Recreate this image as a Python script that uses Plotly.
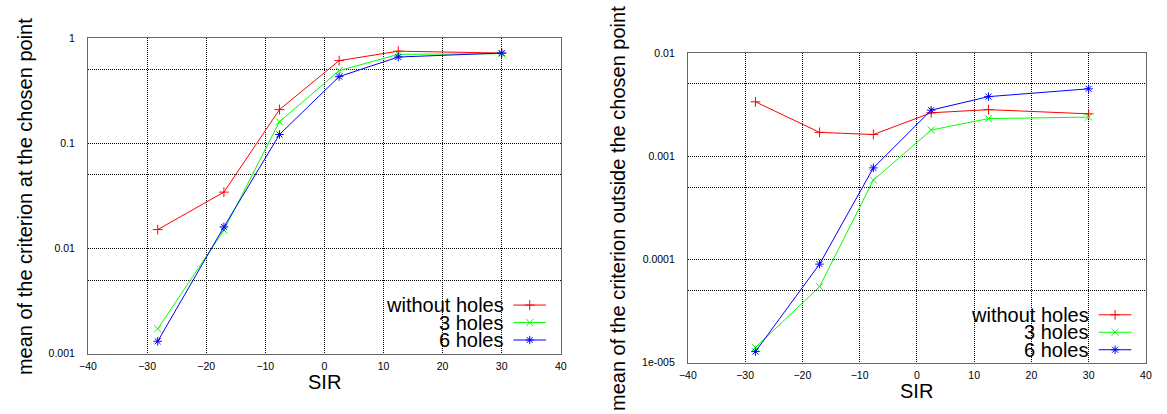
import plotly.graph_objects as go

# ---- data ----
sir = [-28.2, -17.0, -7.6, 2.5, 12.5, 30.0]

left_without = [0.0151, 0.0343, 0.209, 0.61, 0.75, 0.72]
left_3holes = [0.00172, 0.0149, 0.16, 0.49, 0.70, 0.71]
left_6holes = [0.00131, 0.0160, 0.121, 0.43, 0.66, 0.72]

right_without = [0.00336, 0.00170, 0.00162, 0.00263, 0.00282, 0.00257]
right_3holes = [1.40e-5, 5.44e-5, 0.000586, 0.00179, 0.00231, 0.00239]
right_6holes = [1.28e-5, 9.0e-5, 0.00077, 0.00279, 0.00377, 0.00449]

series_names = ["without holes", "3 holes", "6 holes"]
series_colors = ["#ff0000", "#00ff00", "#0000ff"]
series_symbols = ["cross-thin-open", "x-thin-open", "asterisk-open"]

x_ticks = [-40, -30, -20, -10, 0, 10, 20, 30, 40]
left_yvals = [0.001, 0.005, 0.01, 0.05, 0.1, 0.5, 1]
left_ytext = ["0.001", "", "0.01", "", "0.1", "", "1"]
right_yvals = [1e-5, 5e-5, 1e-4, 5e-4, 1e-3, 5e-3, 1e-2]
right_ytext = ["1e-005", "", "0.0001", "", "0.001", "", "0.01"]

W, H = 1167, 414
FONT = "Liberation Sans, Arial, sans-serif"
MSIZE = 7


def marker(i):
    return dict(symbol=series_symbols[i], size=MSIZE, color=series_colors[i],
                line=dict(color=series_colors[i], width=1))


fig = go.Figure()

left_data = [left_without, left_3holes, left_6holes]
right_data = [right_without, right_3holes, right_6holes]

for i in range(3):
    fig.add_trace(go.Scatter(
        x=sir, y=left_data[i], mode="lines+markers", name=series_names[i],
        line=dict(color=series_colors[i], width=1), marker=marker(i),
        xaxis="x", yaxis="y", showlegend=False))
for i in range(3):
    fig.add_trace(go.Scatter(
        x=sir, y=right_data[i], mode="lines+markers", name=series_names[i],
        line=dict(color=series_colors[i], width=1), marker=marker(i),
        xaxis="x2", yaxis="y2", showlegend=False))

# custom gnuplot-style legends (text left, sample right) on a full-page pixel axis
legend_specs = [
    dict(text_right=503, line_x0=511, line_x1=544, rows=[308, 326, 344]),
    dict(text_right=1096, line_x0=1104, line_x1=1137, rows=[318, 336, 354]),
]
annotations = []
for spec in legend_specs:
    for i in range(3):
        yrow = spec["rows"][i]
        fig.add_trace(go.Scatter(
            x=[spec["line_x0"], spec["line_x1"]], y=[yrow, yrow], mode="lines",
            line=dict(color=series_colors[i], width=1),
            xaxis="x3", yaxis="y3", showlegend=False, hoverinfo="skip"))
        fig.add_trace(go.Scatter(
            x=[(spec["line_x0"] + spec["line_x1"]) / 2], y=[yrow], mode="markers",
            marker=marker(i),
            xaxis="x3", yaxis="y3", showlegend=False, hoverinfo="skip"))
        annotations.append(dict(
            text=series_names[i], x=spec["text_right"] / W, y=1 - yrow / H,
            xref="paper", yref="paper", xanchor="right", yanchor="middle",
            showarrow=False, font=dict(family=FONT, size=20, color="black")))

# axis titles
annotations += [
    dict(text="SIR", x=319.5 / W, y=1 - 387 / H, xref="paper", yref="paper",
         xanchor="center", yanchor="middle", showarrow=False,
         font=dict(family=FONT, size=20, color="black")),
    dict(text="SIR", x=919.7 / W, y=1 - 397 / H, xref="paper", yref="paper",
         xanchor="center", yanchor="middle", showarrow=False,
         font=dict(family=FONT, size=20, color="black")),
    dict(text="mean of the criterion at the chosen point", x=17 / W, y=1 - 196 / H,
         xref="paper", yref="paper", xanchor="center", yanchor="middle",
         textangle=-90, showarrow=False,
         font=dict(family=FONT, size=20, color="black")),
    dict(text="mean of the criterion outside the chosen point", x=617 / W, y=1 - 209 / H,
         xref="paper", yref="paper", xanchor="center", yanchor="middle",
         textangle=-90, showarrow=False,
         font=dict(family=FONT, size=20, color="black")),
]

grid = dict(showgrid=True, gridcolor="black", gridwidth=1, griddash="1px,1px",
            showline=True, linecolor="#666666", linewidth=1, mirror=True,
            zeroline=False, ticks="", tickfont=dict(family=FONT, size=10.5, color="black"))

fig.update_layout(
    width=W, height=H,
    margin=dict(l=0, r=0, t=0, b=0),
    paper_bgcolor="white", plot_bgcolor="rgba(0,0,0,0)",
    showlegend=False,
    xaxis=dict(domain=[80 / W, 559 / W], range=[-40, 40], tickvals=x_ticks,
               anchor="y", ticklabelstandoff=3, **grid),
    yaxis=dict(domain=[1 - 358 / H, 1 - 33 / H], type="log", range=[-3, 0],
               tickvals=left_yvals, ticktext=left_ytext, anchor="x",
               ticklabelstandoff=10, **grid),
    xaxis2=dict(domain=[687.7 / W, 1151.7 / W], range=[-40, 40], tickvals=x_ticks,
                anchor="y2", ticklabelstandoff=3, **grid),
    yaxis2=dict(domain=[1 - 367.3 / H, 1 - 48.3 / H], type="log", range=[-5, -2],
                tickvals=right_yvals, ticktext=right_ytext, anchor="x2",
                ticklabelstandoff=10, **grid),
    xaxis3=dict(domain=[0, 1], range=[0, W], visible=False, showgrid=False,
                anchor="y3", fixedrange=True),
    yaxis3=dict(domain=[0, 1], range=[H, 0], visible=False, showgrid=False,
                anchor="x3", fixedrange=True),
    annotations=annotations,
)

fig.write_html("out.html")
